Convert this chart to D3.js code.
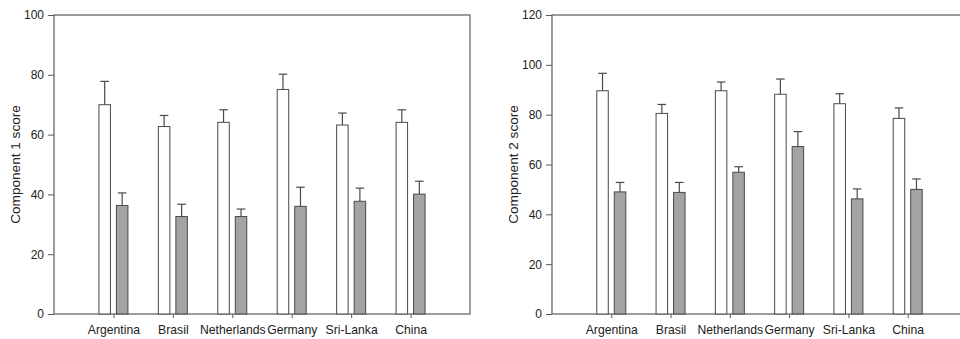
<!DOCTYPE html>
<html>
<head>
<meta charset="utf-8">
<script src="https://cdn.jsdelivr.net/npm/d3@7"></script>
<style>
  body { margin: 0; background: #fff; }
  svg { display: block; font-family: "Liberation Sans", Arial, sans-serif; }
</style>
</head>
<body>
<svg id="chart" width="960" height="339"></svg>
<script>
const countries = ['Argentina', 'Brasil', 'Netherlands', 'Germany', 'Sri-Lanka', 'China'];

// component 1
const c1White = [70, 62.7, 64.1, 75.1, 63.2, 64.1];
const c1WhiteErr = [7.8, 3.7, 4.2, 5.1, 4.0, 4.2];
const c1Gray = [36.3, 32.6, 32.6, 36.0, 37.7, 40.1];
const c1GrayErr = [4.2, 4.1, 2.5, 6.4, 4.4, 4.3];
const c1Ticks = [0, 20, 40, 60, 80, 100];

// component 2
const c2White = [89.6, 80.5, 89.6, 88.2, 84.4, 78.5];
const c2WhiteErr = [7.0, 3.6, 3.5, 6.1, 4.0, 4.2];
const c2Gray = [49.0, 48.8, 56.9, 67.2, 46.2, 50.0];
const c2GrayErr = [3.8, 4.0, 2.2, 6.0, 4.0, 4.2];
const c2Ticks = [0, 20, 40, 60, 80, 100, 120];

const svg = d3.select('#chart');
const axisColor = '#5a5a5a';

function panel(opts) {
  const { left, right, top, bottom, yMax, ticks, white, whiteErr, gray, grayErr, label, labelX } = opts;
  const g = svg.append('g');

  const x = d3.scalePoint().domain(countries).range([left, right]).padding(1);
  const y = d3.scaleLinear().domain([0, yMax]).range([bottom, top]);

  // frame
  g.append('rect')
    .attr('x', left).attr('y', top)
    .attr('width', right - left).attr('height', bottom - top)
    .attr('fill', 'none').attr('stroke', axisColor).attr('stroke-width', 1.2);

  const barW = 11.5, gap = 3;
  const series = [
    { vals: white, errs: whiteErr, fill: '#ffffff', off: -gap - barW },
    { vals: gray, errs: grayErr, fill: '#a3a3a3', off: gap }
  ];

  series.forEach(s => {
    countries.forEach((c, i) => {
      const x0 = x(c) + s.off;
      const cx = x0 + barW / 2;
      const v = s.vals[i], e = s.errs[i];
      // error bar (up only)
      g.append('line')
        .attr('x1', cx).attr('x2', cx)
        .attr('y1', y(v)).attr('y2', y(v + e))
        .attr('stroke', '#4a4a4a').attr('stroke-width', 1.2);
      g.append('line')
        .attr('x1', cx - 4.3).attr('x2', cx + 4.3)
        .attr('y1', y(v + e)).attr('y2', y(v + e))
        .attr('stroke', '#4a4a4a').attr('stroke-width', 1.2);
      g.append('rect')
        .attr('x', x0).attr('y', y(v))
        .attr('width', barW).attr('height', y(0) - y(v))
        .attr('fill', s.fill).attr('stroke', '#4a4a4a').attr('stroke-width', 1);
    });
  });

  // y axis
  const ya = g.append('g')
    .attr('transform', `translate(${left},0)`)
    .call(d3.axisLeft(y).tickValues(ticks).tickSize(6).tickPadding(4).tickFormat(d3.format('d')));
  ya.select('.domain').remove();
  ya.selectAll('.tick line').attr('stroke', axisColor);
  ya.selectAll('.tick text').attr('fill', '#222').attr('font-size', 12);

  // x axis
  const xa = g.append('g')
    .attr('transform', `translate(0,${bottom})`)
    .call(d3.axisBottom(x).tickSize(4).tickPadding(7));
  xa.select('.domain').remove();
  xa.selectAll('.tick line').attr('stroke', axisColor);
  xa.selectAll('.tick text').attr('fill', '#222').attr('font-size', 12.2);

  g.append('text')
    .attr('transform', `translate(${labelX},${(top + bottom) / 2}) rotate(-90)`)
    .attr('text-anchor', 'middle')
    .attr('font-size', 13.6)
    .attr('fill', '#222')
    .text(label);
}

panel({
  left: 54, right: 470, top: 15, bottom: 314, yMax: 100, ticks: c1Ticks,
  white: c1White, whiteErr: c1WhiteErr, gray: c1Gray, grayErr: c1GrayErr,
  label: 'Component 1 score', labelX: 20
});

panel({
  left: 552, right: 967, top: 15, bottom: 314, yMax: 120, ticks: c2Ticks,
  white: c2White, whiteErr: c2WhiteErr, gray: c2Gray, grayErr: c2GrayErr,
  label: 'Component 2 score', labelX: 518
});
</script>
</body>
</html>
